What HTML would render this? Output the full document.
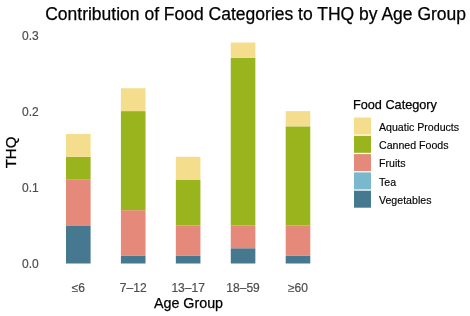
<!DOCTYPE html>
<html><head><meta charset="utf-8"><style>
html,body{margin:0;padding:0;background:#fff;}
body{width:470px;height:316px;overflow:hidden;}
svg{display:block;font-family:"Liberation Sans",sans-serif;will-change:transform;}
.ax{font-size:12px;fill:#4D4D4D;stroke:#4D4D4D;stroke-width:0.2px;}
.lg{font-size:10.6px;fill:#000;}
.bk{fill:#000;stroke:#000;stroke-width:0.25px;}
.lg{stroke:#000;stroke-width:0.15px;}
</style></head><body>
<svg width="470" height="316" viewBox="0 0 470 316">
<rect x="66.00" y="225.40" width="24.6" height="38.10" fill="#467990"/><rect x="66.00" y="179.68" width="24.6" height="45.72" fill="#E58A7A"/><rect x="66.00" y="156.82" width="24.6" height="22.86" fill="#9AB41E"/><rect x="66.00" y="133.96" width="24.6" height="22.86" fill="#F4DE8D"/><rect x="120.92" y="255.88" width="24.6" height="7.62" fill="#467990"/><rect x="120.92" y="210.16" width="24.6" height="45.72" fill="#E58A7A"/><rect x="120.92" y="111.10" width="24.6" height="99.06" fill="#9AB41E"/><rect x="120.92" y="88.24" width="24.6" height="22.86" fill="#F4DE8D"/><rect x="175.84" y="255.88" width="24.6" height="7.62" fill="#467990"/><rect x="175.84" y="225.40" width="24.6" height="30.48" fill="#E58A7A"/><rect x="175.84" y="179.68" width="24.6" height="45.72" fill="#9AB41E"/><rect x="175.84" y="156.82" width="24.6" height="22.86" fill="#F4DE8D"/><rect x="230.76" y="248.26" width="24.6" height="15.24" fill="#467990"/><rect x="230.76" y="225.40" width="24.6" height="22.86" fill="#E58A7A"/><rect x="230.76" y="57.76" width="24.6" height="167.64" fill="#9AB41E"/><rect x="230.76" y="42.52" width="24.6" height="15.24" fill="#F4DE8D"/><rect x="285.68" y="255.88" width="24.6" height="7.62" fill="#467990"/><rect x="285.68" y="225.40" width="24.6" height="30.48" fill="#E58A7A"/><rect x="285.68" y="126.34" width="24.6" height="99.06" fill="#9AB41E"/><rect x="285.68" y="111.10" width="24.6" height="15.24" fill="#F4DE8D"/>
<text x="38.7" y="268.20" text-anchor="end" class="ax">0.0</text><text x="38.7" y="192.00" text-anchor="end" class="ax">0.1</text><text x="38.7" y="115.80" text-anchor="end" class="ax">0.2</text><text x="38.7" y="39.60" text-anchor="end" class="ax">0.3</text>
<text x="78.3" y="292" text-anchor="middle" class="ax">≤6</text><text x="133.22" y="292" text-anchor="middle" class="ax">7–12</text><text x="188.14" y="292" text-anchor="middle" class="ax">13–17</text><text x="243.06" y="292" text-anchor="middle" class="ax">18–59</text><text x="297.98" y="292" text-anchor="middle" class="ax">≥60</text>
<text x="45.2" y="20.2" style="font-size:17.5px" class="bk">Contribution of Food Categories to THQ by Age Group</text>
<text x="188.5" y="307.8" text-anchor="middle" style="font-size:14.3px" class="bk">Age Group</text>
<text transform="translate(15.7,152.5) rotate(-90)" text-anchor="middle" style="font-size:15px" class="bk">THQ</text>
<text x="353" y="109.1" style="font-size:12.7px" class="bk">Food Category</text>
<rect x="354" y="117.50" width="17" height="17" fill="#F4DE8D"/><text x="379" y="130.80" class="lg">Aquatic Products</text><rect x="354" y="135.80" width="17" height="17" fill="#9AB41E"/><text x="379" y="149.10" class="lg">Canned Foods</text><rect x="354" y="154.10" width="17" height="17" fill="#E58A7A"/><text x="379" y="167.40" class="lg">Fruits</text><rect x="354" y="172.40" width="17" height="17" fill="#7AB8CD"/><text x="379" y="185.70" class="lg">Tea</text><rect x="354" y="190.70" width="17" height="17" fill="#467990"/><text x="379" y="204.00" class="lg">Vegetables</text>
</svg>
</body></html>
